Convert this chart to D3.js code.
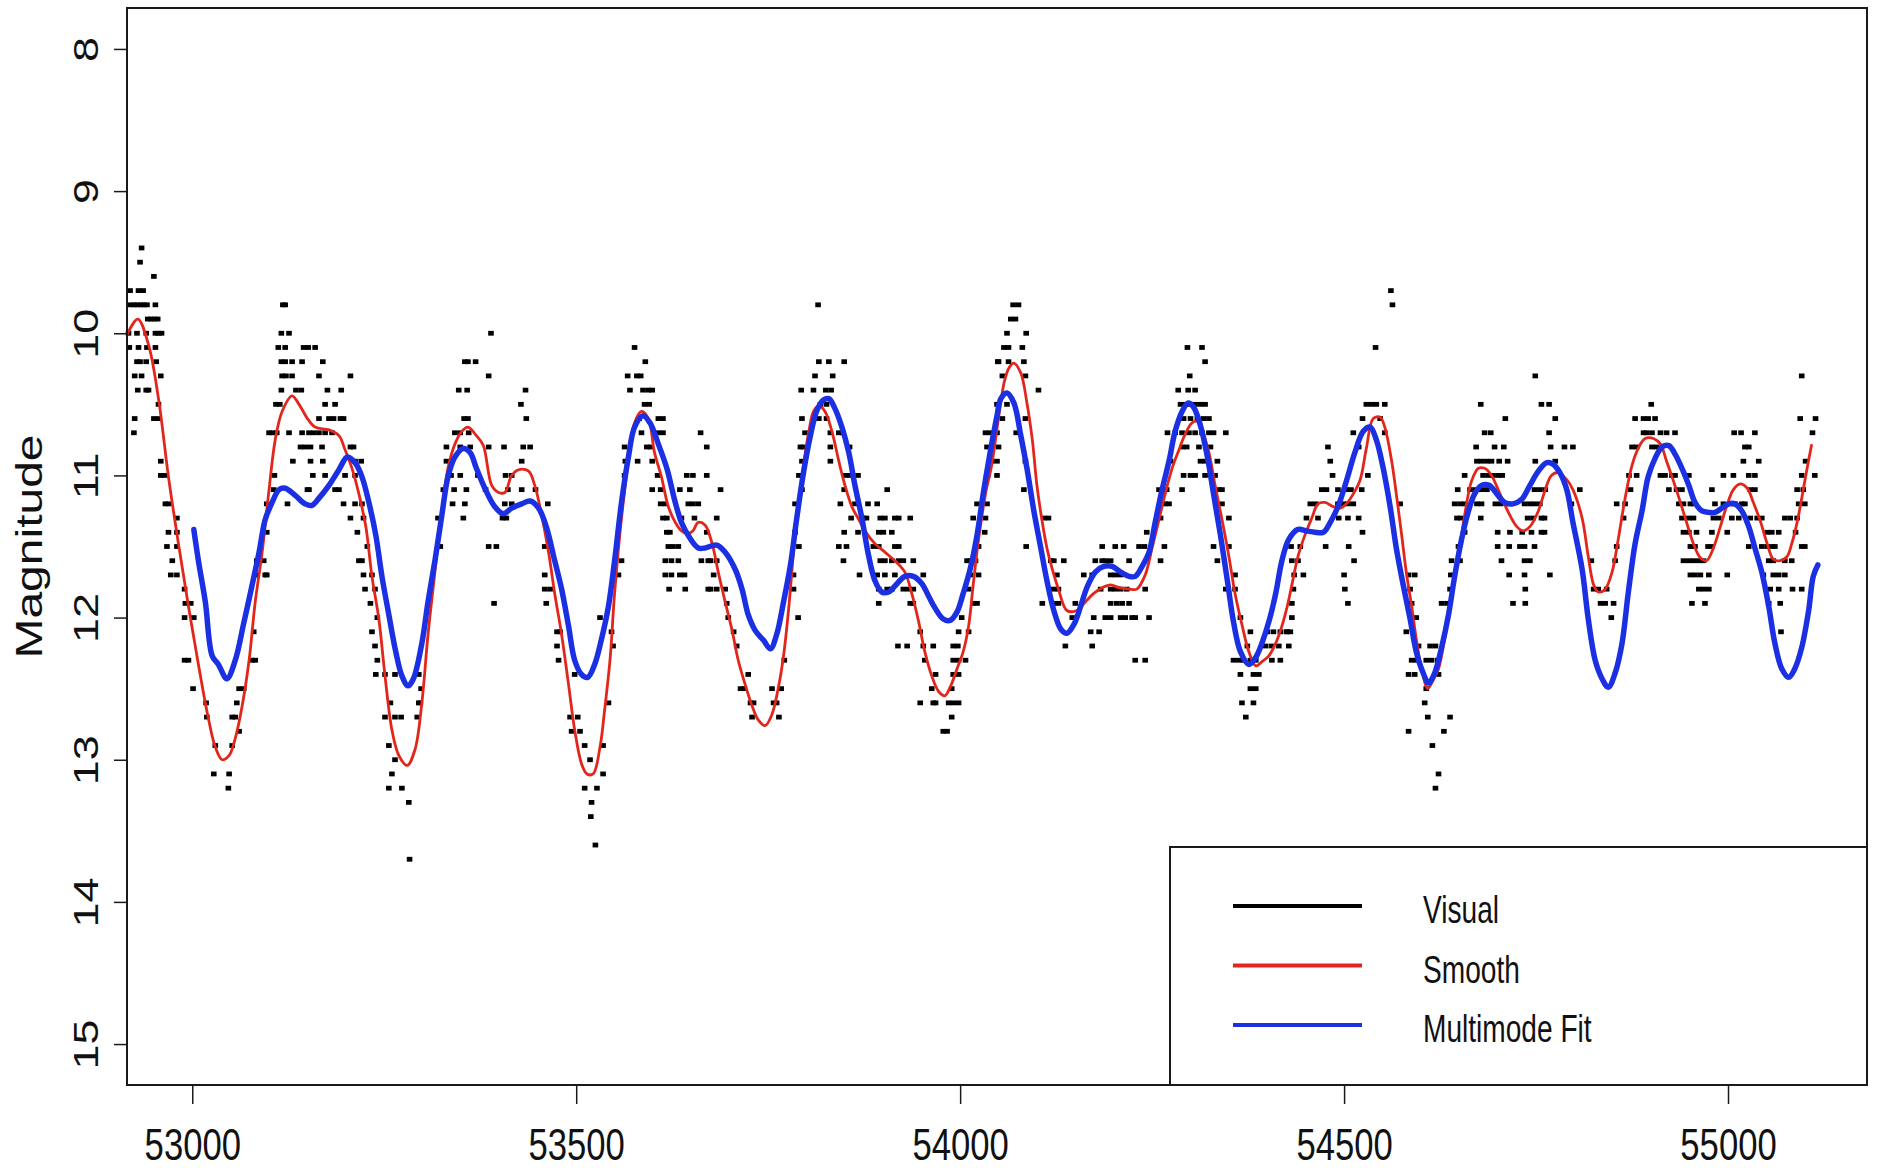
<!DOCTYPE html>
<html><head><meta charset="utf-8">
<script src="https://cdn.jsdelivr.net/npm/d3@7"></script>
<style>html,body{margin:0;padding:0;background:#fff;} svg{display:block;}</style>
</head><body>
<svg id="chart" width="1879" height="1170"></svg>
<script>
const xTicks = [53000, 53500, 54000, 54500, 55000];
const yTicks = [8, 9, 10, 11, 12, 13, 14, 15];
const yLabel = "Magnitude";
const legendLabels = ["Visual", "Smooth", "Multimode Fit"];
const legendColors = ["#000000", "#e3261c", "#1a30e2"];

// Visual observations: [magnitude, [JD ...]]
const visualRows = [
 [9.4,[52934]],
 [9.5,[52932]],
 [9.6,[52950]],
 [9.7,[52919,52930,52936,54561]],
 [9.8,[52919,52924,52928,52933,52937,52941,52952,53118,53121,53815,54069,54076,54563]],
 [9.9,[52942,52946,52951,52955,54066,54072]],
 [10.0,[52917,52928,52940,52952,52956,52960,53116,53126,53389,54061,54086]],
 [10.1,[52918,52930,52941,52952,53112,53121,53145,53151,53160,53576,54057,54063,54081,54296,54315,54541]],
 [10.2,[52928,52932,52940,52953,53116,53121,53130,53143,53170,53355,53359,53369,53590,53816,53829,53849,54049,54050,54063,54083,54319]],
 [10.3,[52925,52934,52959,53117,53122,53130,53165,53206,53386,53567,53579,53584,53811,53834,54055,54085,54299,54749,55096]],
 [10.4,[52929,52940,52943,53116,53135,53142,53176,53194,53347,53358,53434,53570,53587,53594,53599,53793,53809,53825,53832,54102,54284,54297,54306]],
 [10.5,[52956,53109,53114,53173,53186,53428,53589,53595,53818,53826,54048,54061,54287,54293,54300,54306,54313,54319,54529,54536,54542,54553,54678,54757,54767,54900]],
 [10.6,[52925,52950,52956,53165,53178,53184,53193,53197,53354,53359,53435,53582,53607,53613,53794,53816,53826,54055,54085,54291,54300,54309,54317,54324,54524,54547,54710,54775,54879,54890,54896,54905,55094,55114]],
 [10.7,[52924,53100,53104,53110,53126,53143,53152,53158,53165,53173,53182,53342,53349,53360,53585,53607,53613,53662,53798,53831,53842,53847,54033,54039,54048,54073,54270,54280,54289,54298,54306,54315,54324,54330,54346,54512,54553,54683,54691,54767,54890,54894,54901,54912,54920,54931,55008,55017,55035,55110]],
 [10.8,[53141,53147,53154,53169,53206,53210,53331,53349,53362,53386,53406,53431,53440,53563,53592,53597,53670,53792,53796,53831,53856,54035,54050,54289,54295,54311,54326,54479,54519,54672,54696,54708,54769,54787,54798,54875,54881,54901,54907,55022,55027]],
 [10.9,[52959,53131,53154,53170,53212,53220,53331,53429,53564,53580,53599,53794,53831,54041,54048,54085,54274,54313,54319,54335,54482,54673,54679,54686,54692,54702,54713,54749,54775,55020,55040,55101]],
 [11.0,[52959,52964,53107,53157,53173,53199,53212,53337,53349,53372,53408,53416,53563,53606,53644,53652,53670,53790,53850,53856,53867,54036,54048,54291,54300,54306,54319,54332,54485,54531,54657,54681,54688,54694,54701,54706,54871,54881,54912,54918,54927,54931,54949,54994,55007,55027,55035,55096,55113]],
 [11.1,[53106,53150,53152,53186,53191,53327,53341,53357,53382,53411,53429,53447,53599,53610,53635,53648,53688,53794,53849,53905,54083,54259,54269,54289,54337,54341,54471,54477,54492,54503,54509,54523,54648,54664,54671,54679,54686,54748,54755,54762,54807,54873,54923,54933,54940,54979,55029,55035,55090,55098]],
 [11.2,[52965,52969,53097,53124,53197,53212,53221,53339,53355,53407,53416,53463,53610,53616,53646,53652,53659,53785,53844,53863,53880,53892,54022,54035,54267,54272,54341,54456,54463,54492,54499,54505,54512,54573,54644,54651,54657,54673,54679,54697,54704,54712,54735,54742,54748,54755,54796,54855,54866,54936,54942,54951,54955,54983,54994,55003,55009,55018,55022,55092,55100]],
 [11.3,[52980,53206,53223,53320,53353,53404,53409,53613,53618,53637,53654,53683,53858,53874,53878,53896,53902,53915,53920,53935,54017,54033,54109,54115,54261,54350,54451,54466,54493,54505,54519,54647,54652,54678,54739,54746,54757,54761,54864,54940,54949,54955,54981,54988,55005,55014,55029,55038,55044,55074,55081,55090]],
 [11.4,[52969,52980,53097,53215,53618,53622,53670,53785,53849,53867,53894,53900,53911,54032,54243,54524,54657,54700,54716,54732,54744,54757,54761,54942,54949,54959,54979,54999,55051,55057,55066,55088]],
 [11.5,[52967,52980,53228,53323,53386,53396,53459,53620,53626,53633,53790,53842,53852,53887,53894,53915,53920,54024,54086,54185,54202,54213,54233,54240,54266,54330,54350,54431,54443,54476,54506,54649,54700,54715,54729,54735,54748,54855,54951,54957,54974,54979,55027,55044,55051,55057,55061,55096,55100]],
 [11.6,[52974,53084,53093,53217,53221,53559,53616,53624,53633,53663,53672,53675,53683,53848,53896,53902,53911,53920,53926,53939,54009,54013,54020,54118,54122,54135,54176,54185,54189,54196,54220,54261,54335,54432,54440,54513,54640,54651,54705,54735,54742,54822,54853,54942,54949,54955,54962,54968,55053,55059,55074,55083]],
 [11.7,[52972,52980,53084,53095,53097,53223,53234,53459,53555,53616,53624,53635,53641,53679,53783,53869,53892,53902,53915,53952,54013,54024,54126,54161,54172,54196,54202,54209,54358,54435,54447,54500,54584,54592,54639,54715,54735,54768,54951,54957,54964,54975,54999,55046,55059,55066,55074]],
 [11.8,[52990,53225,53238,53459,53466,53621,53642,53672,53675,53683,53694,53783,53894,53905,53911,53926,53933,53939,54011,54122,54128,54183,54196,54202,54209,54217,54241,54346,54358,54434,54501,54586,54638,54736,54825,54831,54842,54962,54968,54975,55055,55066,55084,55096]],
 [11.9,[52991,52998,53232,53393,53461,53696,53894,53935,53939,54017,54022,54107,54122,54128,54150,54196,54204,54211,54220,54432,54505,54588,54627,54634,54720,54736,54834,54840,54851,54953,54970,55053,55068]],
 [12.0,[52990,53002,53241,53531,53698,53789,54002,54146,54174,54189,54196,54209,54215,54224,54228,54246,54365,54432,54594,54848]],
 [12.1,[53080,53234,53475,53479,53546,53705,53948,53998,54011,54170,54181,54378,54400,54408,54417,54426,54425,54430,54581,55069]],
 [12.2,[53238,53475,53548,53709,53919,53931,53952,53965,53991,53997,54137,54172,54374,54398,54406,54415,54428,54597,54612,54619]],
 [12.3,[52990,52995,53078,53082,53241,53477,53771,53954,53991,53998,54007,54228,54241,54356,54363,54369,54378,54385,54406,54417,54588,54594,54607,54614,54622]],
 [12.4,[53239,53251,53264,53295,53498,53724,53968,53991,53998,54365,54382,54389,54584,54592,54623]],
 [12.5,[53001,53061,53067,53298,53714,53719,53755,53767,53963,53989,54378,54385,54607]],
 [12.6,[53018,53058,53258,53295,53297,53542,53727,53731,53757,53761,53948,53965,53968,53985,53991,53998,54367,54382,54605]],
 [12.7,[53019,53052,53056,53251,53264,53272,53293,53492,53502,53729,53764,53989,54372,54609,54638]],
 [12.8,[53061,53494,53505,53978,53983,54584,54630]],
 [12.9,[53030,53052,53256,53511,53535,54615]],
 [13.0,[53264,53518]],
 [13.1,[53028,53048,53260,53535,54623]],
 [13.2,[53047,53256,53273,53511,53527,54619]],
 [13.3,[53282,53520]],
 [13.4,[53519]],
 [13.6,[53525]],
 [13.7,[53283]]
];

// Smooth curve: [JD, magnitude]
const smoothCurve = [
 [52915,10.01],[52929,9.90],[52943,10.08],[52956,10.46],[52969,11.01],[52982,11.48],[52995,11.92],[53008,12.33],[53021,12.71],[53030,12.91],[53039,13.00],[53048,12.97],[53056,12.85],[53065,12.62],[53074,12.30],[53082,11.89],[53091,11.54],[53100,11.10],[53108,10.75],[53117,10.55],[53130,10.44],[53139,10.50],[53150,10.60],[53160,10.66],[53178,10.68],[53191,10.72],[53199,10.82],[53208,10.95],[53217,11.13],[53226,11.36],[53234,11.71],[53243,12.01],[53251,12.41],[53260,12.79],[53269,12.97],[53280,13.04],
 [53290,12.93],[53299,12.60],[53307,12.12],[53316,11.68],[53325,11.25],[53333,10.95],[53342,10.78],[53351,10.69],[53359,10.66],[53370,10.72],[53379,10.79],[53390,11.07],[53399,11.12],[53407,11.12],[53416,11.00],[53425,10.96],[53438,10.97],[53446,11.07],[53455,11.28],[53464,11.54],[53472,11.83],[53481,12.12],[53490,12.47],[53498,12.79],[53507,13.03],[53514,13.10],[53522,13.10],[53531,12.91],[53537,12.65],[53544,12.30],[53550,11.83],[53559,11.30],[53568,10.90],[53576,10.63],[53585,10.55],[53594,10.60],[53602,10.84],[53611,11.01],[53620,11.22],[53629,11.33],[53637,11.39],[53646,11.41],[53652,11.39],[53659,11.33],[53668,11.35],
 [53677,11.48],[53685,11.68],[53694,11.89],[53703,12.09],[53711,12.30],[53720,12.47],[53729,12.62],[53737,12.72],[53746,12.76],[53755,12.68],[53763,12.50],[53770,12.27],[53777,11.92],[53783,11.54],[53790,11.19],[53796,10.93],[53803,10.69],[53809,10.55],[53816,10.51],[53824,10.55],[53833,10.69],[53842,10.90],[53850,11.07],[53859,11.22],[53868,11.31],[53876,11.39],[53889,11.48],[53902,11.54],[53915,11.60],[53928,11.68],[53937,11.83],[53946,12.03],[53954,12.24],[53963,12.41],[53972,12.52],[53980,12.55],[53987,12.49],[53996,12.36],[54004,12.24],[54011,12.06],[54017,11.77],[54024,11.45],[54033,11.13],[54041,10.93],
 [54046,10.75],[54052,10.52],[54058,10.33],[54064,10.24],[54070,10.21],[54079,10.28],[54087,10.49],[54094,10.75],[54100,11.07],[54107,11.33],[54113,11.51],[54120,11.66],[54128,11.80],[54139,11.95],[54152,11.95],[54163,11.89],[54174,11.83],[54185,11.79],[54196,11.77],[54207,11.79],[54220,11.80],[54230,11.80],[54241,11.70],[54250,11.51],[54259,11.31],[54267,11.13],[54276,10.95],[54285,10.82],[54293,10.71],[54302,10.63],[54309,10.62],[54315,10.68],[54324,10.84],[54332,11.07],[54341,11.31],[54350,11.57],[54358,11.83],[54367,12.05],[54376,12.24],[54385,12.34],[54393,12.31],[54402,12.27],[54411,12.18],[54419,12.06],[54426,11.92],
 [54432,11.77],[54440,11.57],[54449,11.42],[54458,11.30],[54466,11.20],[54475,11.19],[54486,11.22],[54495,11.23],[54503,11.20],[54512,11.13],[54521,11.03],[54529,10.81],[54538,10.60],[54547,10.59],[54553,10.66],[54562,10.90],[54568,11.13],[54575,11.42],[54581,11.68],[54588,11.92],[54594,12.15],[54601,12.36],[54609,12.50],[54616,12.44],[54623,12.36],[54631,12.15],[54640,11.86],[54649,11.57],[54657,11.28],[54666,11.04],[54675,10.95],[54683,10.95],[54692,11.00],[54703,11.13],[54714,11.26],[54725,11.36],[54733,11.39],[54742,11.36],[54753,11.25],[54762,11.10],[54770,11.00],[54779,10.98],[54790,11.03],[54798,11.10],
 [54810,11.30],[54818,11.57],[54825,11.77],[54831,11.82],[54840,11.80],[54849,11.68],[54857,11.45],[54866,11.16],[54875,10.93],[54883,10.81],[54892,10.74],[54903,10.74],[54912,10.78],[54920,10.90],[54929,11.04],[54938,11.19],[54946,11.33],[54955,11.48],[54964,11.58],[54972,11.60],[54981,11.51],[54990,11.36],[54998,11.22],[55007,11.10],[55016,11.06],[55025,11.09],[55033,11.19],[55042,11.32],[55051,11.48],[55059,11.59],[55068,11.60],[55077,11.57],[55083,11.48],[55090,11.33],[55096,11.16],[55103,10.95],[55109,10.78]
];

// Multimode fit: [JD, magnitude]
const multimodeFit = [
 [53002,11.38],[53008,11.60],[53017,11.89],[53026,12.27],[53034,12.33],[53045,12.43],[53056,12.30],[53067,12.04],[53078,11.77],[53087,11.54],[53095,11.31],[53104,11.19],[53113,11.10],[53121,11.09],[53134,11.14],[53147,11.20],[53156,11.21],[53165,11.16],[53178,11.07],[53191,10.96],[53202,10.87],[53212,10.91],[53221,11.01],[53230,11.19],[53239,11.42],[53247,11.71],[53256,11.98],[53265,12.24],[53273,12.41],[53281,12.48],[53288,12.43],
 [53299,12.18],[53307,11.89],[53316,11.60],[53325,11.28],[53333,11.01],[53342,10.87],[53353,10.81],[53362,10.84],[53370,10.95],[53381,11.09],[53394,11.22],[53405,11.27],[53416,11.23],[53429,11.20],[53440,11.18],[53451,11.23],[53461,11.36],[53472,11.60],[53481,11.80],[53490,12.06],[53498,12.30],[53507,12.40],[53515,12.42],[53524,12.33],[53533,12.15],[53542,11.92],[53550,11.60],[53559,11.19],[53568,10.87],[53576,10.66],[53587,10.58],[53596,10.63],[53607,10.78],[53618,10.95],[53629,11.19],[53637,11.33],[53648,11.44],[53659,11.51],[53668,11.51],
 [53683,11.49],[53694,11.54],[53707,11.66],[53716,11.80],[53724,11.98],[53733,12.09],[53744,12.16],[53753,12.22],[53761,12.12],[53770,11.89],[53779,11.63],[53787,11.31],[53796,10.98],[53805,10.72],[53813,10.55],[53822,10.47],[53829,10.46],[53837,10.53],[53846,10.66],[53855,10.84],[53863,11.07],[53872,11.30],[53881,11.57],[53889,11.74],[53898,11.82],[53907,11.82],[53918,11.76],[53928,11.71],[53939,11.71],[53950,11.76],[53959,11.85],[53967,11.93],[53978,12.01],[53987,12.02],[53996,11.96],[54004,11.83],[54013,11.66],[54022,11.42],[54030,11.13],[54039,10.84],[54048,10.58],
 [54053,10.46],[54061,10.42],[54070,10.49],[54079,10.72],[54087,10.95],[54096,11.25],[54105,11.51],[54113,11.74],[54122,11.95],[54131,12.08],[54139,12.11],[54148,12.05],[54157,11.92],[54165,11.79],[54176,11.68],[54187,11.64],[54198,11.64],[54209,11.68],[54220,11.71],[54228,11.71],[54237,11.64],[54246,11.54],[54254,11.33],[54263,11.10],[54272,10.90],[54280,10.69],[54289,10.55],[54297,10.49],[54304,10.52],[54313,10.65],[54322,10.87],[54330,11.13],[54339,11.42],[54348,11.74],[54356,12.03],[54365,12.24],[54376,12.33],[54385,12.28],[54393,12.18],[54402,12.03],[54411,11.83],[54419,11.60],
 [54428,11.45],[54440,11.38],[54451,11.39],[54462,11.40],[54473,11.40],[54482,11.33],[54492,11.22],[54503,11.04],[54514,10.84],[54525,10.69],[54534,10.66],[54542,10.75],[54551,10.95],[54560,11.22],[54568,11.51],[54577,11.77],[54586,12.01],[54594,12.24],[54603,12.39],[54610,12.46],[54618,12.39],[54627,12.21],[54636,11.98],[54644,11.71],[54653,11.45],[54662,11.25],[54670,11.13],[54679,11.07],[54689,11.07],[54699,11.13],[54709,11.19],[54720,11.20],[54731,11.17],[54742,11.07],[54753,10.97],[54764,10.91],[54772,10.92],[54781,10.98],[54790,11.10],[54798,11.33],
 [54810,11.66],[54818,12.01],[54827,12.30],[54836,12.43],[54844,12.49],[54853,12.39],[54862,12.18],[54870,11.83],[54879,11.48],[54888,11.25],[54896,11.01],[54905,10.88],[54914,10.80],[54923,10.79],[54931,10.85],[54940,10.95],[54949,11.07],[54957,11.19],[54966,11.25],[54975,11.26],[54983,11.26],[54992,11.23],[55001,11.20],[55009,11.20],[55018,11.25],[55027,11.36],[55035,11.51],[55044,11.68],[55053,11.92],[55061,12.18],[55070,12.36],[55079,12.42],[55087,12.36],[55096,12.21],[55105,11.95],[55111,11.71],[55117,11.63]
];

// ---------- drawing ----------
const L = 127, R = 1867, T = 8, B = 1085;
const FONT = "'Liberation Sans', Arial, Helvetica, sans-serif";
const SX = 0.77; // horizontal squeeze of glyphs as in the reference

const svg = d3.select("#chart");
svg.append("rect").attr("width", 1879).attr("height", 1170).attr("fill", "#fff");

const x = d3.scaleLinear().domain([52915, 55181]).range([L, R]);
const y = d3.scaleLinear().domain([7.712, 15.288]).range([T, B]);

// scatter of visual estimates
const pts = visualRows.flatMap(([m, jds]) => jds.map(j => [j, m]));
svg.append("g").selectAll("rect").data(pts).join("rect")
  .attr("x", d => x(d[0]) - 2.8).attr("y", d => y(d[1]) - 2.4)
  .attr("width", 5.6).attr("height", 4.8).attr("fill", "#000");

const line = d3.line().x(d => x(d[0])).y(d => y(d[1])).curve(d3.curveCatmullRom.alpha(0.5));

svg.append("path").datum(smoothCurve).attr("d", line)
  .attr("fill", "none").attr("stroke", legendColors[1]).attr("stroke-width", 2.8)
  .attr("stroke-linejoin", "round");
svg.append("path").datum(multimodeFit).attr("d", line)
  .attr("fill", "none").attr("stroke", legendColors[2]).attr("stroke-width", 5.5)
  .attr("stroke-linejoin", "round").attr("stroke-linecap", "round");

// frame
svg.append("rect").attr("x", L).attr("y", T).attr("width", R - L).attr("height", B - T)
  .attr("fill", "none").attr("stroke", "#1a1a1a").attr("stroke-width", 2);

// x axis
const gx = svg.append("g").attr("transform", `translate(0,${B})`)
  .call(d3.axisBottom(x).tickValues(xTicks).tickSize(19).tickFormat(d => String(d)));
gx.select(".domain").remove();
gx.selectAll(".tick line").attr("stroke", "#1a1a1a").attr("stroke-width", 1.5);
gx.selectAll(".tick text")
  .attr("y", 75).attr("dy", null)
  .attr("font-size", 45).attr("font-family", FONT).attr("fill", "#111")
  .attr("transform", `scale(${SX},1)`);

// y axis
const gy = svg.append("g").attr("transform", `translate(${L},0)`)
  .call(d3.axisLeft(y).tickValues(yTicks).tickSize(13).tickFormat(d => String(d)));
gy.select(".domain").remove();
gy.selectAll(".tick line").attr("stroke", "#1a1a1a").attr("stroke-width", 1.5);
gy.selectAll(".tick text")
  .attr("x", 0).attr("y", -38).attr("dy", null)
  .attr("text-anchor", "middle")
  .attr("font-size", 45).attr("font-family", FONT).attr("fill", "#111")
  .attr("transform", `scale(${SX},1) rotate(-90)`);

// y label
svg.append("text").text(yLabel)
  .attr("transform", `translate(42,${(T + B) / 2}) scale(${SX},1) rotate(-90)`)
  .attr("text-anchor", "middle").attr("font-size", 48).attr("font-family", FONT).attr("fill", "#111");

// legend
const lg = svg.append("g");
lg.append("rect").attr("x", 1170).attr("y", 847).attr("width", R - 1170).attr("height", B - 847)
  .attr("fill", "#fff").attr("stroke", "#1a1a1a").attr("stroke-width", 2);
legendLabels.forEach((lab, i) => {
  const ly = 906 + i * 59.5;
  lg.append("line").attr("x1", 1233).attr("x2", 1362).attr("y1", ly).attr("y2", ly)
    .attr("stroke", legendColors[i]).attr("stroke-width", 4);
  lg.append("text").text(lab)
    .attr("transform", `translate(1423,${ly + 17}) scale(0.74,1)`)
    .attr("font-size", 38).attr("font-family", FONT).attr("fill", "#111");
});
</script>
</body></html>
